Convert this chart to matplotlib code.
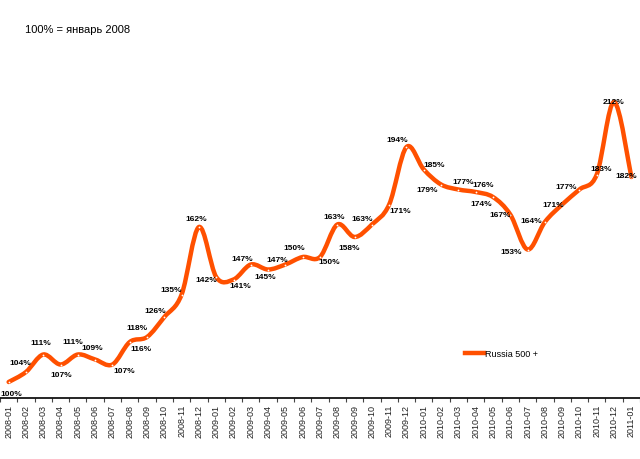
# Russia 500 + index, monthly, 100% = January 2008

import matplotlib
matplotlib.use('Agg')
import matplotlib.pyplot as plt
from matplotlib.path import Path
from matplotlib.patches import PathPatch
from matplotlib.lines import Line2D
import numpy as np

plt.rcParams['font.family'] = ['Liberation Sans', 'DejaVu Sans']

months = ['2008-01', '2008-02', '2008-03', '2008-04', '2008-05', '2008-06',
          '2008-07', '2008-08', '2008-09', '2008-10', '2008-11', '2008-12',
          '2009-01', '2009-02', '2009-03', '2009-04', '2009-05', '2009-06',
          '2009-07', '2009-08', '2009-09', '2009-10', '2009-11', '2009-12',
          '2010-01', '2010-02', '2010-03', '2010-04', '2010-05', '2010-06',
          '2010-07', '2010-08', '2010-09', '2010-10', '2010-11', '2010-12',
          '2011-01']
index_pct = [100, 104, 111, 107, 111, 109, 107, 116, 118, 126, 135, 162,
             142, 141, 147, 145, 147, 150, 150, 163, 158, 163, 171, 194,
             185, 179, 177, 176, 174, 167, 153, 164, 171, 177, 183, 212,
             182]
# label offsets in pixels (dx, dy)
label_off = [(3, -12), (-6, 9), (-2, 12), (1, -10), (-5, 13), (-3, 12),
             (12, -6), (11, -7), (-10, 9), (-9, 6), (-10, 5), (-3, 8),
             (-10, -3), (7, -6), (-9, 6), (-3, -7), (-8, 5), (-8, 9),
             (9, -5), (-3, 8), (-5, -11), (-10, 6), (11, -6), (-9, 7),
             (10, 5), (-14, -5), (5, 8), (7, 7), (-12, -7), (-10, 0),
             (-16, -2), (-14, 1), (-9, 0), (-13, 3), (4, 6), (-1, 1),
             (-5, 1)]

color = '#ff5000'

fig = plt.figure(figsize=(6.4, 4.6), dpi=100)
ax = fig.add_axes([0.0, 61 / 460, 1.0, 1 - 61 / 460 - 9 / 460])

x = np.arange(len(months))
y = np.array(index_pct, dtype=float)

# smoothed line (bezier through the points, like Excel's smoothed line)
verts = [(x[0], y[0])]
codes = [Path.MOVETO]
n = len(x)
for i in range(n - 1):
    p0 = np.array([x[max(i - 1, 0)], y[max(i - 1, 0)]])
    p1 = np.array([x[i], y[i]])
    p2 = np.array([x[i + 1], y[i + 1]])
    p3 = np.array([x[min(i + 2, n - 1)], y[min(i + 2, n - 1)]])
    c1 = p1 + (p2 - p0) / 6.0
    c2 = p2 - (p3 - p1) / 6.0
    verts += [tuple(c1), tuple(c2), tuple(p2)]
    codes += [Path.CURVE4, Path.CURVE4, Path.CURVE4]
ax.add_patch(PathPatch(Path(verts, codes), facecolor='none', edgecolor=color,
                       lw=3.2, capstyle='round', joinstyle='round', zorder=3))
ax.plot(x, y, 'o', color='white', markersize=1.3, markeredgewidth=0, zorder=4)

for i, v in enumerate(index_pct):
    ax.annotate('%d%%' % v, (x[i], y[i]), xytext=label_off[i],
                textcoords='offset pixels', ha='center', va='center',
                fontsize=6, fontweight='bold', color='black', zorder=5)

ax.set_xlim(-0.5, len(months) - 0.5)
ax.set_ylim(100 - 16 / 2.5, 100 + (383 - 9) / 2.5)

ax.set_xticks(x)
ax.set_xticklabels(months, rotation=90, fontsize=6.5, color='#222222')
ax.set_xticks(np.arange(len(months) + 1) - 0.5, minor=True)
ax.tick_params(axis='x', which='major', length=0, pad=4)
ax.tick_params(axis='x', which='minor', length=3, width=0.8, color='#444444')
ax.set_yticks([])
for s in ['top', 'left', 'right']:
    ax.spines[s].set_visible(False)
ax.spines['bottom'].set_linewidth(1.2)

fig.text(25 / 640, 1 - 30 / 460, '100% = январь 2008', fontsize=8,
         va='center', ha='left')

handle = Line2D([], [], color=color, lw=3.2)
fig.legend([handle], ['Russia 500 +'], loc='center left',
           bbox_to_anchor=(465 / 640, 1 - 355 / 460), frameon=False,
           fontsize=6.5, handlelength=2.1, handletextpad=0.1, borderpad=0,
           borderaxespad=0)

savefile = 'out.png'
print('Saving figure to: ', savefile)
fig.savefig(savefile, dpi=100)
